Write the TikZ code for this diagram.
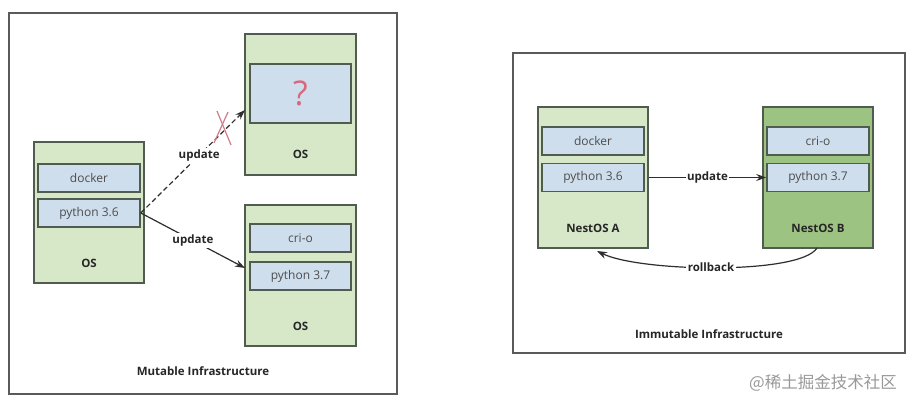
\documentclass[tikz,border=0pt]{standalone}
\usepackage{fontspec}
\setmainfont{Open Sans}
\newfontfamily\cjkfont{Noto Sans CJK SC}
\usetikzlibrary{arrows.meta}
\definecolor{lgreen}{HTML}{D6E8C8}
\definecolor{dgreen}{HTML}{9DC383}
\definecolor{lblue}{HTML}{CFDEED}
\definecolor{bord}{HTML}{4F5C4F}
\definecolor{frame}{HTML}{5A5A5A}
\definecolor{ink}{HTML}{2E2E2E}
\definecolor{qred}{HTML}{D9687C}
\definecolor{xred}{HTML}{D37A88}
\tikzset{
  osbox/.style={draw=bord, line width=1.6pt, fill=lgreen, minimum width=110pt, minimum height=141pt, inner sep=0pt},
  osboxdark/.style={osbox, fill=dgreen},
  layer/.style={draw=bord, line width=1.6pt, fill=lblue, minimum width=102pt, minimum height=28pt, inner sep=0pt, text=ink!85, font=\fontsize{12}{14}\selectfont},
  boldlbl/.style={text=black!85, font=\fontsize{11.5}{13}\selectfont\bfseries, inner sep=1pt},
  conn/.style={draw=ink, line width=1.2pt, -{Stealth[length=10pt,width=7pt]}},
  edgelbl/.style={boldlbl, fill=white, inner sep=1.5pt},
  framebox/.style={draw=frame, line width=1.6pt}
}
\begin{document}
\begin{tikzpicture}[x=1pt,y=-1pt]
\useasboundingbox[fill=white] (0,0) rectangle (918,409);
% ---------- Mutable ----------
\node[framebox, minimum width=388pt, minimum height=381pt, inner sep=0pt] (leftframe) at (203,203.5) {};
\node[osbox] (L) at (89,212.5) {};
\node[layer] (Ldocker) at (89,178) {docker};
\node[layer] (Lpy) at (89,213) {python 3.6};
\node[boldlbl] (Los) at (89,263) {OS};

\node[osbox, minimum width=111pt] (T) at (300.5,104.5) {};
\node[layer, minimum width=101pt, minimum height=59pt] (Q) at (300.5,93.5) {\textcolor{qred}{\fontsize{34}{36}\selectfont ?}};
\node[boldlbl] (Tos) at (300.5,154) {OS};

\node[osbox, minimum width=111pt] (B) at (300.5,275.5) {};
\node[layer, minimum width=101pt] (Bcri) at (300.5,238) {cri-o};
\node[layer, minimum width=101pt] (Bpy) at (300.5,276) {python 3.7};
\node[boldlbl] (Bos) at (300.5,326) {OS};

\coordinate (tipT) at (245,110);
\coordinate (tipB) at (245,268);
\draw[conn, dashed, dash pattern=on 5pt off 3pt] (Lpy.east) -- node[edgelbl, pos=0.56] (u1) {update} (tipT);
\draw[conn] (Lpy.east) -- node[edgelbl, pos=0.5] (u2) {update} (tipB);
\coordinate (x1a) at (217,111);
\coordinate (x1b) at (231,145);
\coordinate (x2a) at (228,112);
\coordinate (x2b) at (214,143);
\draw[xred, line width=1.2pt] (x1a) -- (x1b);
\draw[xred, line width=1.2pt] (x2a) -- (x2b);

\node[boldlbl] (mutable) at (203,371) {Mutable Infrastructure};

% ---------- Immutable ----------
\node[framebox, minimum width=392pt, minimum height=300pt, inner sep=0pt] (rightframe) at (709,203) {};
\node[osbox] (A) at (593,177.5) {};
\node[layer] (Adocker) at (593,141) {docker};
\node[layer] (Apy) at (593,177.5) {python 3.6};
\node[boldlbl] (Alab) at (593,228) {NestOS A};

\node[osboxdark] (NB) at (818,177.5) {};
\node[layer] (NBcri) at (818,141) {cri-o};
\node[layer] (NBpy) at (818,177.5) {python 3.7};
\node[boldlbl] (NBlab) at (818,228) {NestOS B};

\draw[conn] (A.east |- Apy) -- node[edgelbl] (u3) {update} (NBpy.west);
\coordinate (rbstart) at (817,248);
\coordinate (rbend) at (597,251);
\draw[conn] (rbstart) .. controls (800,275) and (640,272) .. node[edgelbl, pos=0.52] (rb) {rollback} (rbend);

\node[boldlbl] (immutable) at (709,334) {Immutable Infrastructure};

\node[text=black!40, font=\cjkfont\fontsize{16.5}{18}\selectfont, inner sep=0pt] (wm) at (823,383) {@稀土掘金技术社区};
\end{tikzpicture}
\end{document}
